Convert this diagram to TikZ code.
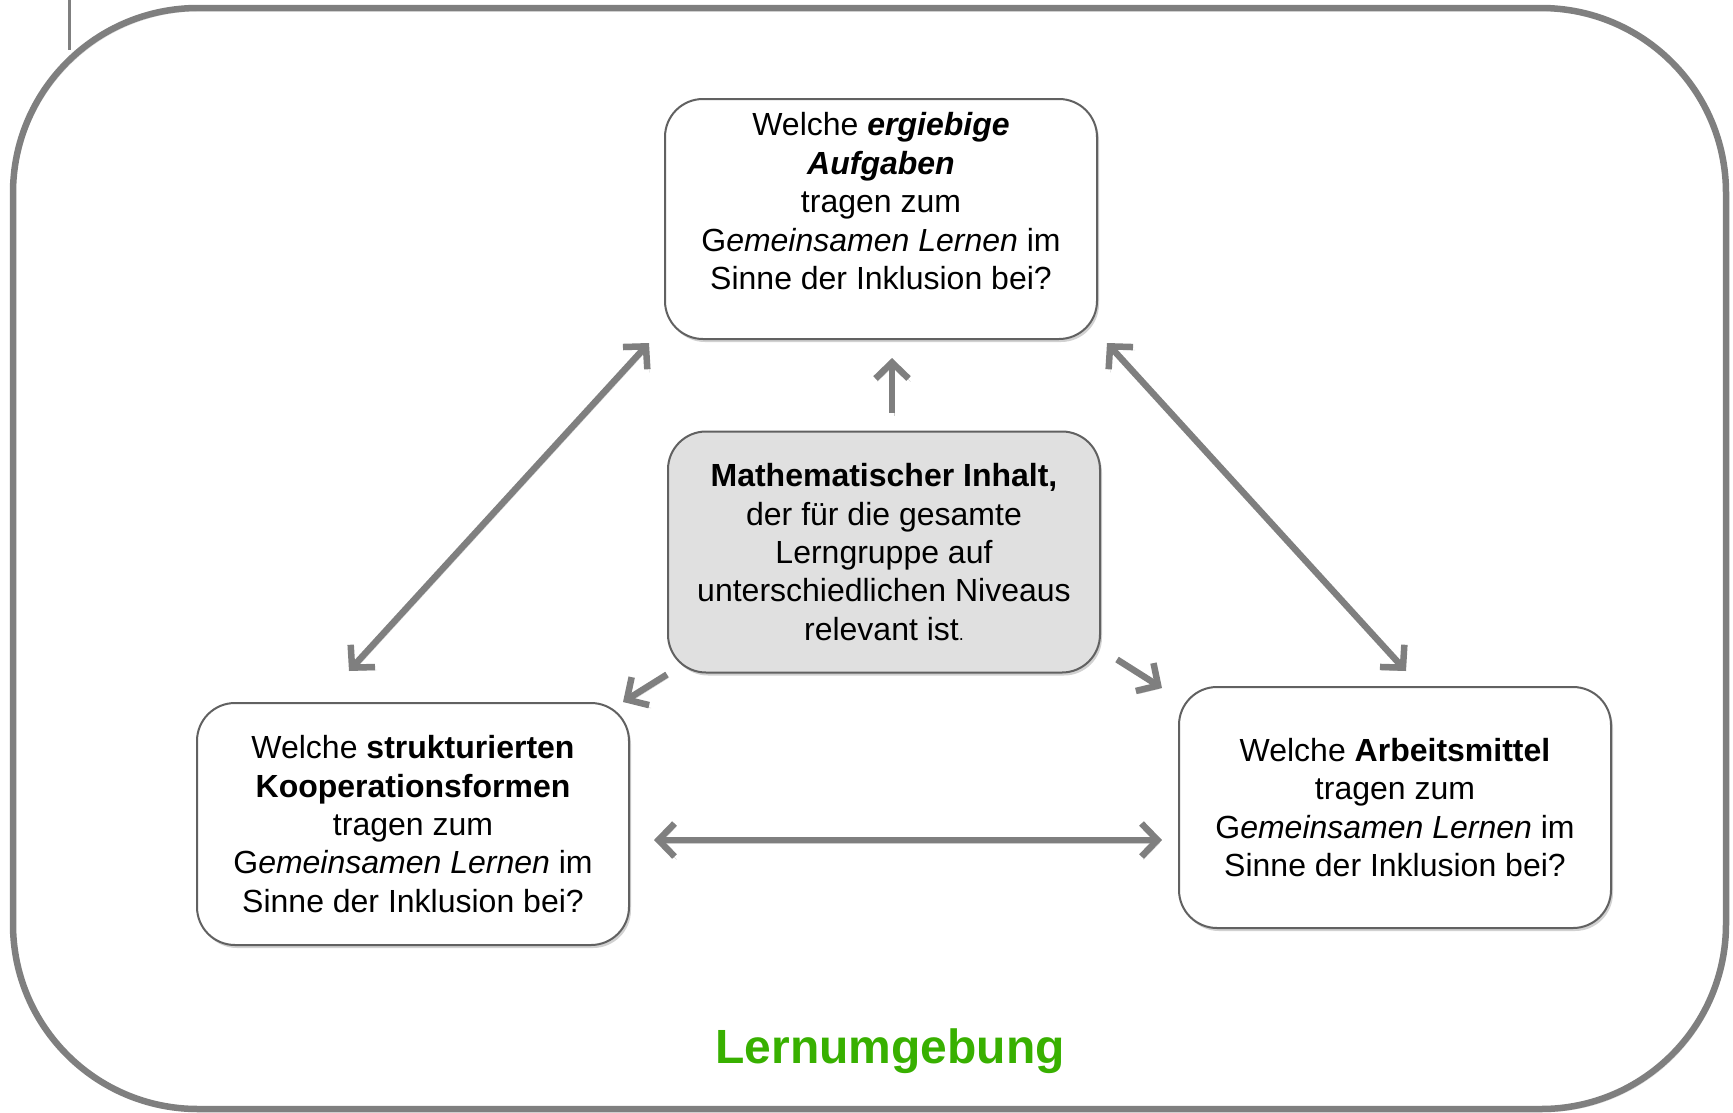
\documentclass[tikz,border=0pt]{standalone}
\usepackage{fontspec}
\setmainfont{Liberation Sans}
\usetikzlibrary{arrows.meta,shadows}
\definecolor{lgreen}{RGB}{56,176,0}
\definecolor{lgray}{RGB}{127,127,127}

\begin{document}
\begin{tikzpicture}[x=1pt,y=-1pt,
	>={Straight Barb[length=16pt,width=33pt]},
	box/.style={draw=black!62, line width=2pt, fill=white, rounded corners=38pt, align=center, inner sep=0pt,
		minimum width=432pt, minimum height=241pt, font=\fontsize{32}{38.4}\selectfont,
		drop shadow={shadow xshift=2pt, shadow yshift=-3pt, fill=black!18, opacity=1}},
	link/.style={draw=lgray, line width=6.5pt,
		preaction={draw=black!20, transform canvas={shift={(2pt,-3pt)}}}}]
	\useasboundingbox (0,0) rectangle (1733,1112);

	% frame of the learning environment
	\draw [line width=6.5pt, draw=lgray, rounded corners=185pt,
		preaction={draw=black!15, transform canvas={shift={(2pt,-3pt)}}}] (13,8) rectangle (1726,1109);
	\draw [line width=3pt, draw=lgray] (69,0) -- (69,50);

	\node [box, fill=black!12] (1) at (884,552) {\textbf{Mathematischer Inhalt,}\\ der für die gesamte\\ Lerngruppe auf\\ unterschiedlichen Niveaus\\ relevant ist{\fontsize{18}{20}\selectfont.}};

	\node [box, minimum height=240pt] (2) at (881,219) {Welche \textbf{\textit{ergiebige}}\\ \textbf{\textit{Aufgaben}}\\ tragen zum\\ G\textit{emeinsamen Lernen} im\\ Sinne der Inklusion bei?\\[-14pt] \strut};
	\node [box, minimum height=242pt] (3) at (413,824) {Welche \textbf{strukturierten}\\ \textbf{Kooperationsformen}\\ tragen zum\\ G\textit{emeinsamen Lernen} im\\ Sinne der Inklusion bei?};
	\node [box] (4) at (1395,807.5) {Welche \textbf{Arbeitsmittel}\\ tragen zum\\ G\textit{emeinsamen Lernen} im\\ Sinne der Inklusion bei?};

	\node [font=\bfseries\fontsize{48}{56}\selectfont, text=lgreen] (5) at (890,1051) {Lernumgebung};

	\draw [link, ->] ([xshift=8pt,yshift=18pt]1.north) to ([xshift=11pt,yshift=-18pt]2.south);
	\draw [link, ->] ([yshift=-1pt]1.south west) to ([xshift=-7pt]3.north east);
	\draw [link, ->] ([xshift=16pt,yshift=14pt]1.south east) to ([xshift=-16pt,yshift=-2pt]4.north west);
	\draw [link, <->] ([xshift=-64pt,yshift=31pt]3.north) to ([xshift=-15pt,yshift=-3pt]2.south west);
	\draw [link, <->] ([xshift=9pt,yshift=-3pt]2.south east) to ([xshift=11pt,yshift=15pt]4.north);
	\draw [link, <->] ([xshift=24pt,yshift=-16pt]3.east) to ([xshift=-16pt,yshift=-32.5pt]4.west);
\end{tikzpicture}
\end{document}
